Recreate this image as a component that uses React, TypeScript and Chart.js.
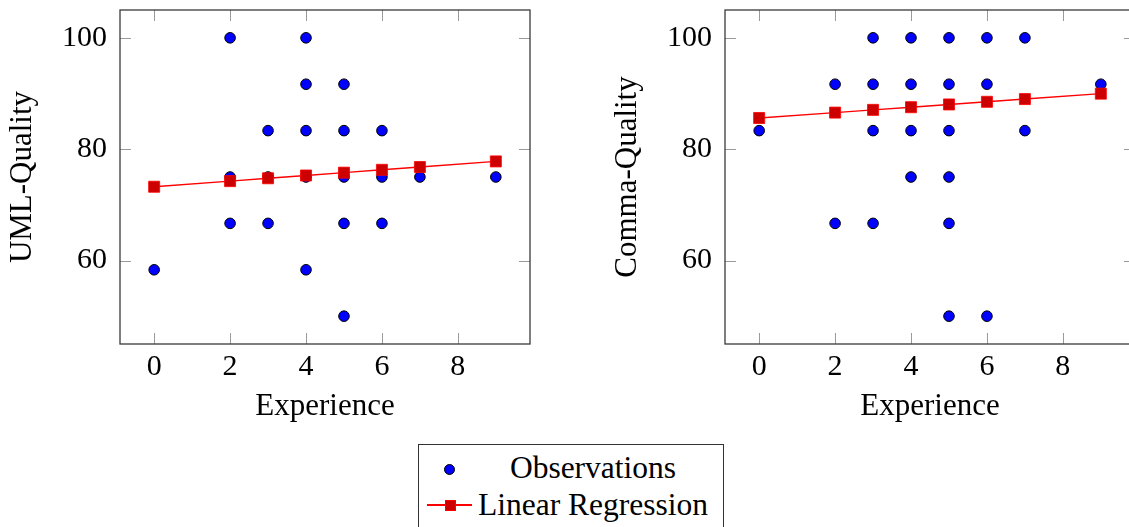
import React, { useEffect, useRef } from 'react';
import { Chart, registerables } from 'chart.js';

Chart.register(...registerables);

// ---------- data ----------
const X_TICKS = [0, 2, 4, 6, 8];
const Y_TICKS = [60, 80, 100];

const UML_OBS_X = [0, 2, 2, 2, 3, 3, 3, 4, 4, 4, 4, 4, 5, 5, 5, 5, 5, 6, 6, 6, 7, 9];
const UML_OBS_Y = [58.33, 100, 75, 66.67, 83.33, 75, 66.67, 100, 91.67, 83.33, 75, 58.33, 91.67, 83.33, 75, 66.67, 50, 83.33, 75, 66.67, 75, 75];

const REG_X = [0, 2, 3, 4, 5, 6, 7, 9];
const UML_REG_Y = [73.25, 74.26, 74.77, 75.27, 75.78, 76.29, 76.79, 77.8];

const COMMA_OBS_X = [0, 2, 2, 3, 3, 3, 3, 4, 4, 4, 4, 5, 5, 5, 5, 5, 5, 6, 6, 6, 7, 7, 9];
const COMMA_OBS_Y = [83.33, 91.67, 66.67, 100, 91.67, 83.33, 66.67, 100, 91.67, 83.33, 75, 100, 91.67, 83.33, 75, 66.67, 50, 100, 91.67, 50, 100, 83.33, 91.67];
const COMMA_REG_Y = [85.6, 86.57, 87.06, 87.54, 88.03, 88.51, 89.0, 89.97];

const SERIES_LABELS = ['Observations', 'Linear Regression'];
const X_TITLE = 'Experience';

const FONT = '"Liberation Serif", "Times New Roman", serif';

const framePlugin = {
  id: 'pgfFrame',
  afterDatasetsDraw(chart: any) {
    const { ctx, chartArea: a, scales } = chart;
    const xs = scales.x;
    const ys = scales.y;
    const L = 11;
    ctx.save();
    ctx.strokeStyle = '#9a9a9a';
    ctx.lineWidth = 1;
    ctx.beginPath();
    for (const v of X_TICKS) {
      const px = Math.round(xs.getPixelForValue(v)) + 0.5;
      ctx.moveTo(px, a.top);
      ctx.lineTo(px, a.top + L);
      ctx.moveTo(px, a.bottom);
      ctx.lineTo(px, a.bottom - L);
    }
    for (const v of Y_TICKS) {
      const py = Math.round(ys.getPixelForValue(v)) + 0.5;
      ctx.moveTo(a.left, py);
      ctx.lineTo(a.left + L, py);
      ctx.moveTo(a.right, py);
      ctx.lineTo(a.right - L, py);
    }
    ctx.stroke();
    ctx.strokeStyle = '#3a3a3a';
    ctx.lineWidth = 1.3;
    ctx.strokeRect(a.left, a.top, a.right - a.left, a.bottom - a.top);
    ctx.restore();
  },
};

function makeConfig(obsX: number[], obsY: number[], regY: number[], yTitle: string): any {
  return {
    type: 'scatter',
    data: {
      datasets: [
        {
          label: SERIES_LABELS[1],
          data: REG_X.map((x, i) => ({ x, y: regY[i] })),
          showLine: true,
          borderColor: '#ff0000',
          borderWidth: 1.4,
          pointStyle: 'rect',
          pointRadius: 7.8,
          pointBackgroundColor: '#cc0000',
          pointBorderColor: '#ff0000',
          pointBorderWidth: 0.8,
          order: 0,
        },
        {
          label: SERIES_LABELS[0],
          data: obsX.map((x, i) => ({ x, y: obsY[i] })),
          showLine: false,
          pointStyle: 'circle',
          pointRadius: 5.3,
          pointBackgroundColor: '#0000ff',
          pointBorderColor: '#000000',
          pointBorderWidth: 1,
          order: 1,
        },
      ],
    },
    options: {
      responsive: false,
      animation: false,
      layout: { padding: { top: 10, right: 10, bottom: 0, left: 0 } },
      plugins: { legend: { display: false }, tooltip: { enabled: false } },
      scales: {
        x: {
          type: 'linear',
          min: -0.9,
          max: 9.9,
          afterBuildTicks: (s: any) => {
            s.ticks = X_TICKS.map((v) => ({ value: v }));
          },
          afterFit: (s: any) => {
            s.height = 96;
            s.paddingLeft = 0;
            s.paddingRight = 0;
            s.paddingTop = 0;
            s.paddingBottom = 0;
          },
          grid: { display: false, drawTicks: false },
          border: { display: false },
          ticks: {
            font: { family: FONT, size: 30 },
            color: '#000',
            padding: 5,
            maxRotation: 0,
            autoSkip: false,
          },
          title: {
            display: true,
            text: X_TITLE,
            color: '#000',
            font: { family: FONT, size: 31 },
            padding: { top: 0, bottom: 15 },
          },
        },
        y: {
          type: 'linear',
          min: 45,
          max: 105,
          afterBuildTicks: (s: any) => {
            s.ticks = Y_TICKS.map((v) => ({ value: v }));
          },
          afterFit: (s: any) => {
            s.width = 120;
            s.paddingLeft = 0;
            s.paddingRight = 0;
            s.paddingTop = 0;
            s.paddingBottom = 0;
          },
          grid: { display: false, drawTicks: false },
          border: { display: false },
          ticks: {
            font: { family: FONT, size: 30 },
            color: '#000',
            padding: 13,
            autoSkip: false,
          },
          title: {
            display: true,
            text: yTitle,
            color: '#000',
            font: { family: FONT, size: 31 },
            padding: { top: 4, bottom: 0 },
          },
        },
      },
    },
    plugins: [framePlugin],
  };
}

function ScatterPanel(props: { obsX: number[]; obsY: number[]; regY: number[]; yTitle: string; left: number }) {
  const ref = useRef<HTMLCanvasElement | null>(null);
  useEffect(() => {
    if (!ref.current) return;
    const chart = new Chart(ref.current, makeConfig(props.obsX, props.obsY, props.regY, props.yTitle));
    return () => chart.destroy();
  }, []);
  return (
    <canvas
      ref={ref}
      width={540}
      height={440}
      style={{ position: 'absolute', left: props.left, top: 0, width: 540, height: 440, display: 'block' }}
    />
  );
}

export default function App() {
  const textStyle: React.CSSProperties = {
    position: 'absolute',
    left: 593,
    transform: 'translateX(-50%)',
    whiteSpace: 'nowrap',
    fontFamily: FONT,
    fontSize: 31.5,
    lineHeight: '31.5px',
    color: '#000',
  };
  return (
    <div style={{ position: 'absolute', left: 0, top: 0, width: 1129, height: 527, overflow: 'hidden', background: '#fff' }}>
      <ScatterPanel obsX={UML_OBS_X} obsY={UML_OBS_Y} regY={UML_REG_Y} yTitle="UML-Quality" left={0} />
      <ScatterPanel obsX={COMMA_OBS_X} obsY={COMMA_OBS_Y} regY={COMMA_REG_Y} yTitle="Comma-Quality" left={605} />
      {/* legend */}
      <div
        style={{
          position: 'absolute',
          left: 418,
          top: 444,
          width: 306,
          height: 110,
          border: '1px solid #333',
          boxSizing: 'border-box',
        }}
      />
      <div
        style={{
          position: 'absolute',
          left: 444,
          top: 463.5,
          width: 11,
          height: 11,
          borderRadius: '50%',
          background: '#0000ff',
          border: '1px solid #000',
          boxSizing: 'border-box',
        }}
      />
      <div style={{ position: 'absolute', left: 427, top: 504.3, width: 45, height: 1.4, background: '#ff0000' }} />
      <div
        style={{
          position: 'absolute',
          left: 444.5,
          top: 499.5,
          width: 11,
          height: 11,
          background: '#cc0000',
          border: '0.8px solid #ff0000',
          boxSizing: 'border-box',
        }}
      />
      <div style={{ ...textStyle, top: 452 }}>{SERIES_LABELS[0]}</div>
      <div style={{ ...textStyle, top: 488.6 }}>{SERIES_LABELS[1]}</div>
    </div>
  );
}
